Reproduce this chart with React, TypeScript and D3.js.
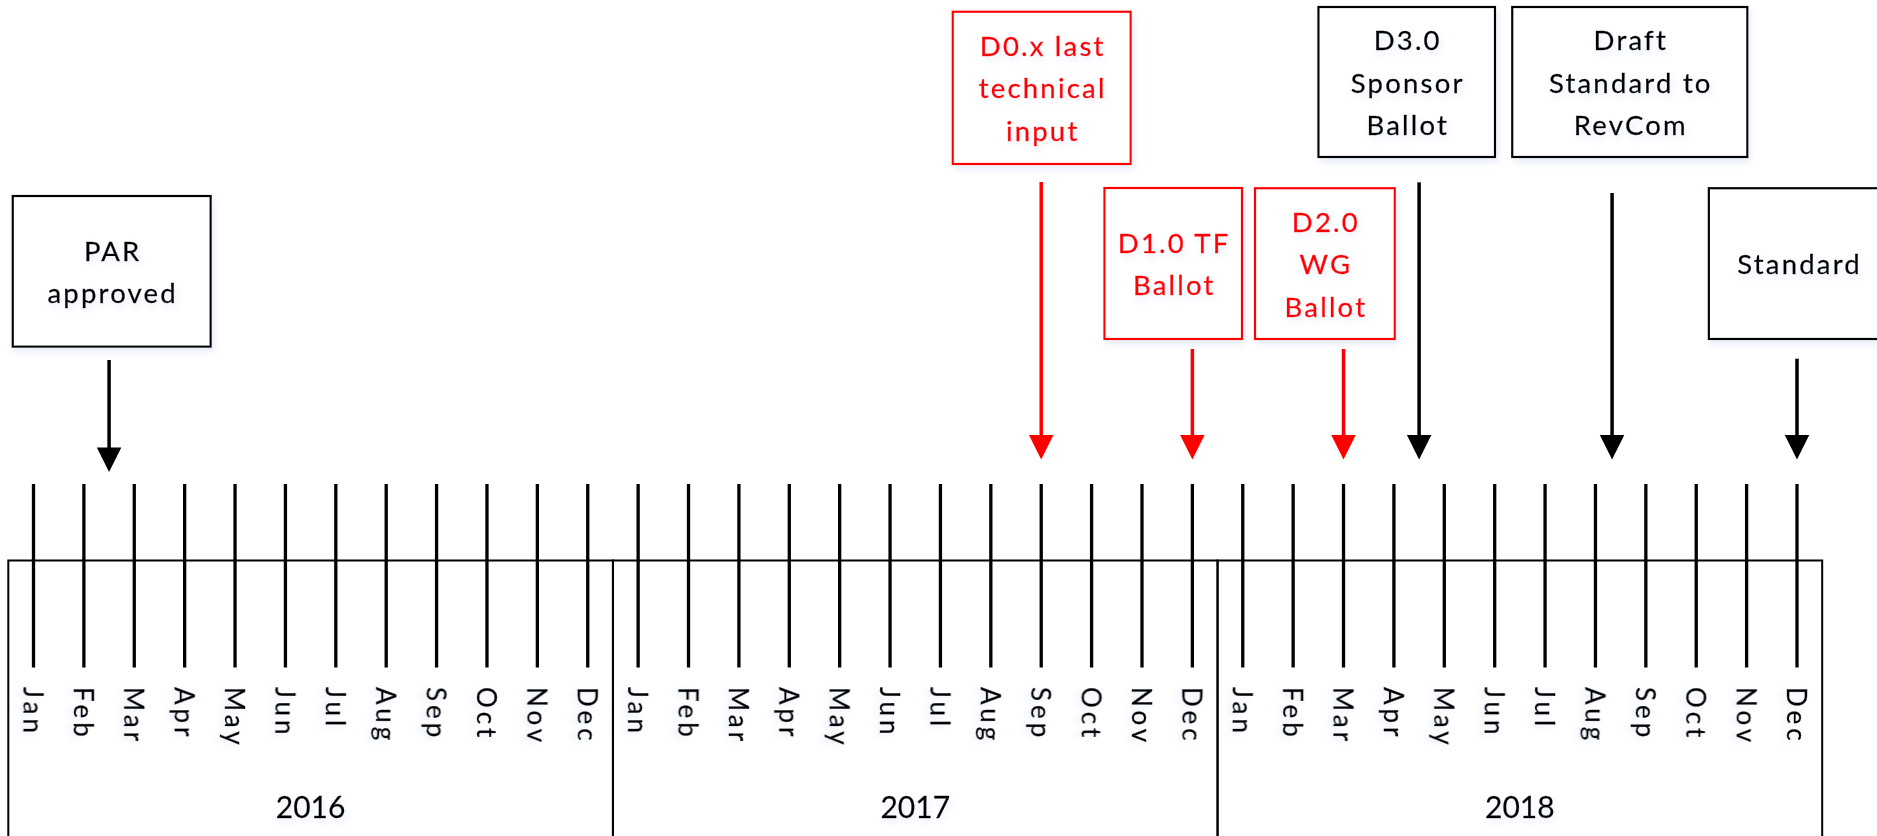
import React from "react";
import * as d3 from "d3";

// ---------- data ----------
const months = ["Jan", "Feb", "Mar", "Apr", "May", "Jun", "Jul", "Aug", "Sep", "Oct", "Nov", "Dec"];
const years = ["2016", "2017", "2018"];

// milestone texts (one entry per line)
const milestoneLabels: string[][] = [
  ["PAR", "approved"],
  ["D0.x last", "technical", "input"],
  ["D1.0 TF", "Ballot"],
  ["D2.0", "WG", "Ballot"],
  ["D3.0", "Sponsor", "Ballot"],
  ["Draft", "Standard to", "RevCom"],
  ["Standard"],
];
// month index counted from Jan 2016 (0) where each arrow points
const milestoneMonths = [1.5, 20, 23, 26, 27.5, 31.33, 35];
// kind of milestone: technical drafts (red) vs. approvals (black)
const milestoneKinds = ["approval", "draft", "draft", "draft", "approval", "approval", "approval"];

// ---------- layout (positions of the callout boxes) ----------
const boxLayout = [
  { x0: 12.7, x1: 210.7, y0: 196, y1: 346.7, arrowTop: 360, arrowTip: 472 },
  { x0: 952.7, x1: 1130.7, y0: 11.7, y1: 164, arrowTop: 182, arrowTip: 459.5 },
  { x0: 1104.4, x1: 1242, y0: 188, y1: 339, arrowTop: 349, arrowTip: 459.5 },
  { x0: 1255, x1: 1394.8, y0: 188.2, y1: 339, arrowTop: 349, arrowTip: 459.5 },
  { x0: 1318.4, x1: 1495, y0: 7, y1: 157, arrowTop: 182.3, arrowTip: 459.5 },
  { x0: 1512.2, x1: 1747.4, y0: 7, y1: 157, arrowTop: 193, arrowTip: 459.5 },
  { x0: 1708.8, x1: 1890, y0: 188.2, y1: 339, arrowTop: 358.7, arrowTip: 459.5 },
];

const W = 1877;
const H = 836;
const FONT = "Lato, 'Open Sans', 'Noto Sans', sans-serif";
const colorFor = d3.scaleOrdinal<string, string>().domain(["approval", "draft"]).range(["#000000", "#ff0000"]);

export default function App() {
  const totalMonths = months.length * years.length;
  const x = d3.scaleLinear().domain([0, totalMonths - 1]).range([33.5, 1797]);
  const monthIdx = d3.range(totalMonths);

  const tickTop = 484;
  const tickBottom = 667.5;
  const yearTop = 560.5;
  const lineGap = 42.5;
  const headW = 24.5;
  const headH = 24.5;

  return (
    <svg
      width={W}
      height={H}
      style={{ position: "absolute", left: 0, top: 0, background: "#fff" }}
      fontFamily={FONT}
    >
      <defs>
        <filter id="glow" x="-20%" y="-20%" width="140%" height="140%">
          <feDropShadow dx="2" dy="4" stdDeviation="3" floodColor="#c7d3ec" floodOpacity="0.45" />
        </filter>
      </defs>

      {/* year boxes */}
      {years.map((yr, i) => {
        const a = x(i * 12 - 0.5);
        const b = x(i * 12 + 11.5);
        return (
          <g key={yr}>
            <path
              d={`M${a},${H + 5}V${yearTop}H${b}V${H + 5}`}
              fill="none"
              stroke="#000"
              strokeWidth={2}
            />
            <text
              x={(a + b) / 2}
              y={805.5}
              textAnchor="middle"
              dominantBaseline="central"
              fontSize={30}
              fill="#000"
              stroke="#000"
              strokeWidth={0.3}
              filter="url(#glow)"
            >
              {yr}
            </text>
          </g>
        );
      })}

      {/* month ticks */}
      {monthIdx.map((m) => (
        <line
          key={"t" + m}
          x1={x(m)}
          x2={x(m)}
          y1={tickTop}
          y2={tickBottom}
          stroke="#000"
          strokeWidth={3.3}
        />
      ))}

      {/* month labels */}
      {monthIdx.map((m) => (
        <text
          key={"m" + m}
          transform={`translate(${x(m)},687) rotate(90)`}
          dominantBaseline="central"
          fontSize={26}
          letterSpacing={4}
          fill="#000"
          stroke="#000"
          strokeWidth={0.35}
          filter="url(#glow)"
        >
          {months[m % 12]}
        </text>
      ))}

      {/* milestones */}
      {milestoneLabels.map((lines, i) => {
        const bx = boxLayout[i];
        const c = colorFor(milestoneKinds[i]);
        const ax = x(milestoneMonths[i]);
        const cy = (bx.y0 + bx.y1) / 2;
        const textCx = i === 6 ? 1798.6 : (bx.x0 + bx.x1) / 2;
        return (
          <g key={"ms" + i}>
            <rect
              x={bx.x0}
              y={bx.y0}
              width={bx.x1 - bx.x0}
              height={bx.y1 - bx.y0}
              fill="#fff"
              stroke={c}
              strokeWidth={2.2}
              filter="url(#glow)"
            />
            <text
              textAnchor="middle"
              fontSize={27.5}
              letterSpacing={2.2}
              fill={c}
              stroke={c}
              strokeWidth={0.35}
              filter="url(#glow)"
            >
              {lines.map((ln, j) => (
                <tspan
                  key={j}
                  x={textCx + 1}
                  y={cy + (j - (lines.length - 1) / 2) * lineGap}
                  dominantBaseline="central"
                >
                  {ln}
                </tspan>
              ))}
            </text>
            <line
              x1={ax}
              x2={ax}
              y1={bx.arrowTop}
              y2={bx.arrowTip - headH + 1}
              stroke={c}
              strokeWidth={3.5}
            />
            <path
              d={`M${ax - headW / 2},${bx.arrowTip - headH}L${ax + headW / 2},${bx.arrowTip - headH}L${ax},${bx.arrowTip}Z`}
              fill={c}
            />
          </g>
        );
      })}
    </svg>
  );
}
